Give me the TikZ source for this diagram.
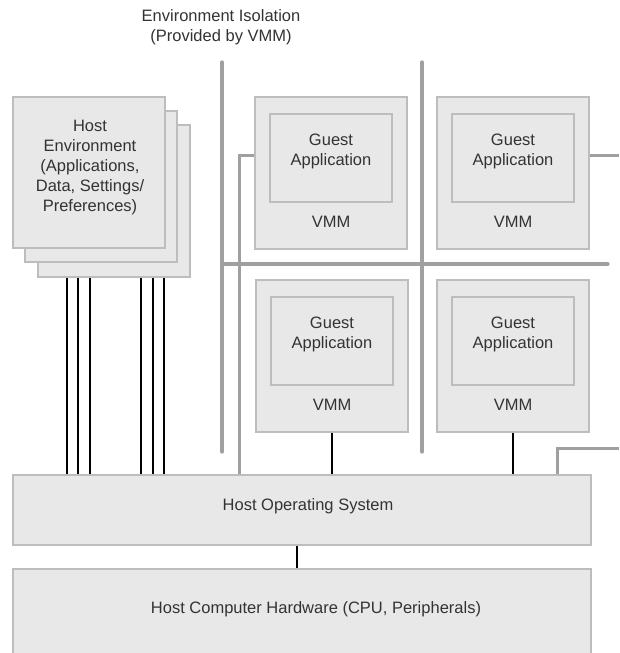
\documentclass[tikz,border=0pt]{standalone}
\usepackage{fontspec}
\setmainfont{Liberation Sans}
\definecolor{boxfill}{HTML}{E8E8E8}
\definecolor{boxline}{HTML}{BDBDBD}
\definecolor{wallgray}{HTML}{A0A0A0}
\definecolor{inkgray}{HTML}{333333}
\begin{document}
\begin{tikzpicture}[x=1pt,y=-1pt,
  font=\fontsize{16.5}{20}\selectfont,
  every node/.style={text=inkgray},
  panel/.style={draw=boxline,fill=boxfill,line width=1.5pt,inner sep=0pt,
    minimum width=#1},
  wall/.style={draw=wallgray,line width=3.2pt,line cap=round},
  link/.style={draw=wallgray,line width=3pt},
  wire/.style={draw=black,line width=1.8pt},
  lbl/.style={align=center,inner sep=0pt}]
\useasboundingbox (0,0) rectangle (619,653);

% stacked host environment sheets
\node[panel=152,minimum height=152] (envC) at (114,201) {};
\node[panel=152,minimum height=151] (envB) at (101,186.5) {};
\node[panel=152,minimum height=151] (envA) at (89,172.5) {};
\node[lbl] (envT) at (90,168) {Host\\Environment\\(Applications,\\Data, Settings/\\Preferences)};

% isolation walls
\coordinate (w1t) at (222,62);  \coordinate (w1b) at (222,452);
\coordinate (w2t) at (422,62);  \coordinate (w2b) at (422,452);
\coordinate (hl) at (222,264);  \coordinate (hr) at (608,264);
\draw[wall] (w1t) -- (w1b);
\draw[wall] (w2t) -- (w2b);
\draw[wall] (hl) -- (hr);
\node[lbl] (title) at (221,27.5) {Environment Isolation\\(Provided by VMM)};

% host OS and hardware
\node[panel=578,minimum height=70] (os) at (302,510) {};
\node[lbl] (osT) at (308,506) {Host Operating System};
\node[panel=578,minimum height=100] (hw) at (302,619) {};
\node[lbl] (hwT) at (316,609) {Host Computer Hardware (CPU, Peripherals)};

% guest VMs: outer VMM box, inner application box, labels
\foreach \n/\cx/\ty in {g1/331/97, g2/513/97, g3/332/280, g4/513/280}{
  \node[panel=152,minimum height=152] (\n) at (\cx,\ty+76) {};
  \node[panel=122,minimum height=88] (\n in) at (\cx,\ty+61) {};
  \node[lbl] (\n app) at (\cx,\ty+54) {Guest\\Application};
  \node[lbl] (\n vmm) at (\cx,\ty+125) {VMM};
}

% black connections to the host OS
\foreach \x in {67,78,90,141,153,164}
  \draw[wire] (envC.south -| \x,0) -- (os.north -| \x,0);
\draw[wire] (g3.south) -- (os.north -| g3.south);
\draw[wire] (g4.south) -- (os.north -| g4.south);
\draw[wire] (os.south -| 297,0) -- (hw.north -| 297,0);

% gray network links
\coordinate (lk1) at (239,155);
\draw[link] (g1.west |- lk1) -- (lk1) -- (os.north -| lk1);
\coordinate (lk2) at (619,155);
\draw[link] (g2.east |- lk2) -- (lk2);
\coordinate (lk3) at (557,448);
\coordinate (lk4) at (619,448);
\draw[link] (os.north -| lk3) -- (lk3) -- (lk4);
\end{tikzpicture}
\end{document}
